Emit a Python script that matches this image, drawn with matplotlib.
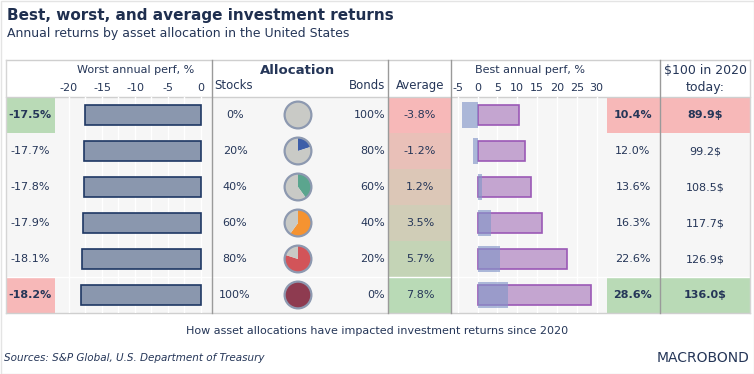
import numpy as np
import matplotlib.pyplot as plt
from matplotlib.patches import Rectangle, Circle
from matplotlib.colors import LinearSegmentedColormap, Normalize

# data
stocks = [0, 20, 40, 60, 80, 100]
bonds = [100, 80, 60, 40, 20, 0]
worst = [-17.5, -17.7, -17.8, -17.9, -18.1, -18.2]
average = [-3.8, -1.2, 1.2, 3.5, 5.7, 7.8]
best = [10.4, 12.0, 13.6, 16.3, 22.6, 28.6]
today = [89.9, 99.2, 108.5, 117.7, 126.9, 136.0]
worst_ticks = [-20, -15, -10, -5, 0]
best_ticks = [-5, 0, 5, 10, 15, 20, 25, 30]
pie_colors = ['#3d5ea8', '#3d5ea8', '#5ba58e', '#f59331', '#d25459', '#8e3b50']

navy = '#253658'
grey_pie = '#c9cac6'
pink = '#f7b8b8'
green = '#b9dab6'
body_bg = '#f6f6f6'

W, H = 754, 374
fig = plt.figure(figsize=(W / 100, H / 100), dpi=100)
plt.rcParams['font.family'] = 'DejaVu Sans'

bg = fig.add_axes([0, 0, 1, 1])
bg.set_xlim(0, W)
bg.set_ylim(H, 0)
bg.axis('off')


def px_axes(x0, y0, x1, y1):
    return fig.add_axes([x0 / W, 1 - y1 / H, (x1 - x0) / W, (y1 - y0) / H])


######################################
# table frame
######################################
top, head_bot, row_h = 60, 97, 36
n = len(stocks)
bottom = head_bot + row_h * n
left, right = 6, 750
rows_y = [head_bot + row_h * (i + 0.5) for i in range(n)]

bg.add_patch(Rectangle((left, head_bot), right - left, bottom - head_bot, fc=body_bg, ec='none'))

# average cells coloured from pink to green
cmap = LinearSegmentedColormap.from_list('avg', [pink, green])
norm = Normalize(min(average), max(average))
for i, v in enumerate(average):
    bg.add_patch(Rectangle((388, head_bot + row_h * i), 63, row_h, fc=cmap(norm(v)), ec='none'))


def highlight(vals, x0, x1):
    i_hi = int(np.argmax(vals))
    i_lo = int(np.argmin(vals))
    bg.add_patch(Rectangle((x0, head_bot + row_h * i_hi), x1 - x0, row_h, fc=green, ec='none'))
    bg.add_patch(Rectangle((x0, head_bot + row_h * i_lo), x1 - x0, row_h, fc=pink, ec='none'))
    return i_hi, i_lo


hl_worst = highlight(worst, left, 55)
hl_best = highlight(best, 607, 660)
hl_today = highlight(today, 660, right)

for yy in [top, head_bot, bottom]:
    bg.plot([left, right], [yy, yy], color='#cfcfcf', lw=1)
bg.plot([left, right], [bottom - row_h, bottom - row_h], color='white', lw=1)
for xx in [left, right]:
    bg.plot([xx, xx], [top, bottom], color='#d5d5d5', lw=1)
for xx in [212, 388, 451, 660]:
    bg.plot([xx, xx], [top, bottom], color='#9a9a9a', lw=1)
bg.add_patch(Rectangle((0.5, 0.5), W - 1, H - 1, fill=False, ec='#e4e4e4', lw=1))

######################################
# texts
######################################
bg.text(7, 15, 'Best, worst, and average investment returns', fontsize=11, fontweight='bold',
        color='#1f2f4f', va='center')
bg.text(7, 33, 'Annual returns by asset allocation in the United States', fontsize=9,
        color=navy, va='center')

bg.text(136, 70, 'Worst annual perf, %', fontsize=8, color=navy, ha='center', va='center')
bg.text(298, 70, 'Allocation', fontsize=9.5, fontweight='bold', color=navy, ha='center', va='center')
bg.text(214, 85, 'Stocks', fontsize=8.5, color=navy, ha='left', va='center')
bg.text(385, 85, 'Bonds', fontsize=8.5, color=navy, ha='right', va='center')
bg.text(420, 85, 'Average', fontsize=8.5, color=navy, ha='center', va='center')
bg.text(530, 70, 'Best annual perf, %', fontsize=8, color=navy, ha='center', va='center')
bg.text(705, 70, r'\$100 in 2020', fontsize=9, color=navy, ha='center', va='center')
bg.text(705, 87, 'today:', fontsize=9, color=navy, ha='center', va='center')

for i, cy in enumerate(rows_y):
    bw = 'bold' if i in hl_worst else 'normal'
    bg.text(30, cy, f'{worst[i]:.1f}%', fontsize=8, color=navy, ha='center', va='center', fontweight=bw)
    bg.text(235, cy, f'{stocks[i]}%', fontsize=8, color=navy, ha='center', va='center')
    bg.text(385, cy, f'{bonds[i]}%', fontsize=8, color=navy, ha='right', va='center')
    bg.text(420, cy, f'{average[i]:.1f}%', fontsize=8, color=navy, ha='center', va='center')
    bb = 'bold' if i in hl_best else 'normal'
    bg.text(633, cy, f'{best[i]:.1f}%', fontsize=8, color=navy, ha='center', va='center', fontweight=bb)
    bt = 'bold' if i in hl_today else 'normal'
    bg.text(705, cy, f'{today[i]:.1f}\\$', fontsize=8, color=navy, ha='center', va='center', fontweight=bt)

bg.text(377, 331, 'How asset allocations have impacted investment returns since 2020', fontsize=8,
        color=navy, ha='center', va='center')
bg.text(4, 358, 'Sources: S&P Global, U.S. Department of Treasury', fontsize=7.5, style='italic',
        color=navy, ha='left', va='center')
bg.text(749, 358, 'MACROBOND', fontsize=10, color=navy, ha='right', va='center')

######################################
# worst bars
######################################
ax_w = px_axes(55, head_bot, 212, bottom)
ax_w.barh(range(n), worst, height=0.55, color='#8a97ae', edgecolor='#1f3864', lw=1.2, zorder=2)
ax_w.set_xlim(-146 / 6.6, 11 / 6.6)
ax_w.set_ylim(n - 0.5, -0.5)
ax_w.set_xticks(worst_ticks)
ax_w.set_xticks(np.arange(-20, 0, 2.5), minor=True)
ax_w.set_xticklabels([str(t) for t in worst_ticks])

######################################
# best bars with average overlay
######################################
ax_b = px_axes(452, head_bot, 607, bottom)
ax_b.barh(range(n), best, height=0.55, color='#c4a5d0', edgecolor='#9b59b6', lw=1.2, zorder=2)
ax_b.barh(range(n), average, height=0.7, color='#8496c8', alpha=0.65, zorder=3)
ax_b.set_xlim(-25.5 / 3.97, 129.5 / 3.97)
ax_b.set_ylim(n - 0.5, -0.5)
ax_b.set_xticks(best_ticks)
ax_b.set_xticklabels([str(t) for t in best_ticks])

for ax in [ax_w, ax_b]:
    ax.set_facecolor('none')
    for s in ax.spines.values():
        s.set_visible(False)
    ax.xaxis.tick_top()
    ax.tick_params(axis='x', which='both', length=0, pad=3, labelsize=8, labelcolor=navy)
    ax.set_yticks([])
    ax.grid(axis='x', which='both', color='white', lw=1)
    ax.set_axisbelow(True)

######################################
# allocation pies
######################################
for i, cy in enumerate(rows_y):
    ax_p = px_axes(298 - 15, cy - 15, 298 + 15, cy + 15)
    ax_p.pie([stocks[i], bonds[i]], colors=[pie_colors[i], grey_pie], startangle=90,
             counterclock=False, wedgeprops=dict(linewidth=0))
    ax_p.add_patch(Circle((0, 0), 1, fill=False, ec='#8d99b0', lw=1.6))
    ax_p.set_xlim(-1.12, 1.12)
    ax_p.set_ylim(-1.12, 1.12)

fig.savefig('out.png', dpi=100)
